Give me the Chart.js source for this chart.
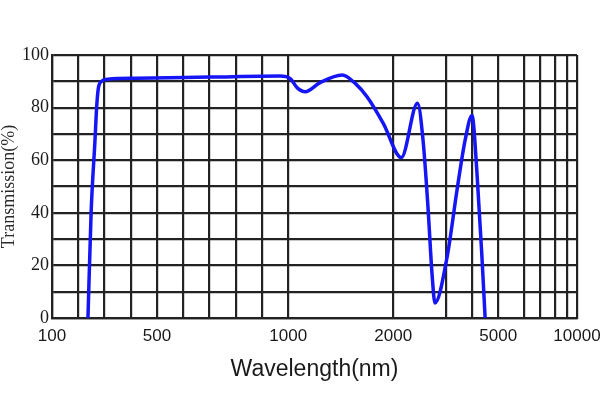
<!DOCTYPE html>
<html>
<head>
<meta charset="utf-8">
<script src="https://cdn.jsdelivr.net/npm/chart.js@4/dist/chart.umd.min.js"></script>
<style>
  html, body { margin: 0; padding: 0; background: #fff; }
  #wrap { width: 600px; height: 400px; }
</style>
</head>
<body>
<div id="wrap"><canvas id="chart"></canvas></div>
<script>
// transmission curve
const wavelengths = [237, 249, 264, 270, 276, 289, 313, 423, 700, 969, 1019, 1086, 1162, 1300, 1514, 1638, 1752, 1905, 2154, 2462, 2567, 2662, 2738, 2795, 3048, 3430, 3740, 4000, 4190, 4380, 4500];
const transmission = [0, 40, 68, 80, 87, 90, 90.8, 91.2, 91.6, 92, 91, 87.5, 86, 89.4, 92.4, 89.2, 84, 74, 61, 81.7, 67.7, 42, 17, 5.7, 23, 48.7, 67.7, 77, 55, 23, 0];

// x axis grid lines and which of them get a label
const xGrid = [100, 200, 300, 400, 500, 600, 700, 800, 900, 1000, 2000, 3000, 4000, 5000, 6000, 7000, 8000, 9000, 10000];
const xLabels = [100, 500, 1000, 2000, 5000, 10000];
const yLabels = [0, 20, 40, 60, 80, 100];

// where each grid line sits across the plot (0..1), the axis in the picture is piecewise
const xGridPos = [0, 0.05, 0.10, 0.15, 0.20, 0.25, 0.30, 0.35, 0.40, 0.45, 0.65, 0.75, 0.80, 0.85, 0.90, 0.93, 0.958, 0.981, 1];

function toDecimal(v) {
  if (v <= xGrid[0]) return 0;
  for (let i = 1; i < xGrid.length; i++) {
    if (v <= xGrid[i]) {
      const t = (v - xGrid[i - 1]) / (xGrid[i] - xGrid[i - 1]);
      return xGridPos[i - 1] + t * (xGridPos[i] - xGridPos[i - 1]);
    }
  }
  return 1;
}

function fromDecimal(d) {
  if (d <= 0) return xGrid[0];
  for (let i = 1; i < xGridPos.length; i++) {
    if (d <= xGridPos[i]) {
      const t = (d - xGridPos[i - 1]) / (xGridPos[i] - xGridPos[i - 1]);
      return xGrid[i - 1] + t * (xGrid[i] - xGrid[i - 1]);
    }
  }
  return xGrid[xGrid.length - 1];
}

class PiecewiseScale extends Chart.LinearScale {
  static id = 'piecewise';
  buildTicks() {
    return xGrid.map(v => ({ value: v }));
  }
  getPixelForValue(value) {
    if (value === null || value === undefined) return NaN;
    return this.getPixelForDecimal(toDecimal(value));
  }
  getValueForPixel(pixel) {
    return fromDecimal(this.getDecimalForPixel(pixel));
  }
}
Chart.register(PiecewiseScale);

const gridColor = '#222';

new Chart(document.getElementById('chart'), {
  type: 'line',
  data: {
    datasets: [{
      data: wavelengths.map((w, i) => ({ x: w, y: transmission[i] })),
      borderColor: '#1515f5',
      borderWidth: 3.5,
      pointRadius: 0,
      cubicInterpolationMode: 'monotone',
      fill: false
    }]
  },
  options: {
    responsive: true,
    maintainAspectRatio: false,
    animation: false,
    layout: { padding: { top: 55, right: 23, left: 0, bottom: 0 } },
    plugins: { legend: { display: false }, tooltip: { enabled: false } },
    scales: {
      x: {
        type: 'piecewise',
        min: 100,
        max: 10000,
        grid: { color: gridColor, lineWidth: 2.2, drawTicks: false },
        border: { color: gridColor, width: 2.2 },
        ticks: {
          autoSkip: false,
          maxRotation: 0,
          padding: 8,
          color: '#1a1a1a',
          font: { family: "'Liberation Sans', Arial, sans-serif", size: 17 },
          callback: v => xLabels.includes(v) ? String(v) : ''
        },
        title: {
          display: true,
          text: 'Wavelength(nm)',
          color: '#1a1a1a',
          font: { family: "'Liberation Sans', Arial, sans-serif", size: 23 },
          padding: { top: 0, bottom: 17 }
        },
        afterFit: s => { s.height = 82; s.paddingLeft = 0; s.paddingRight = 0; }
      },
      y: {
        min: 0,
        max: 100,
        grid: { color: gridColor, lineWidth: 2.2, drawTicks: false },
        border: { color: gridColor, width: 2.2 },
        ticks: {
          stepSize: 10,
          padding: 3,
          color: '#1a1a1a',
          font: { family: "'Liberation Serif', 'Times New Roman', serif", size: 18 },
          callback: v => yLabels.includes(v) ? String(v) : ''
        },
        title: {
          display: true,
          text: 'Transmission(%)',
          color: '#2a2a2a',
          font: { family: "'Liberation Serif', 'Times New Roman', serif", size: 18 },
          padding: { top: -2, bottom: 0 }
        },
        afterFit: s => { s.width = 52; s.paddingTop = 0; s.paddingBottom = 0; }
      }
    }
  }
});
</script>
</body>
</html>
